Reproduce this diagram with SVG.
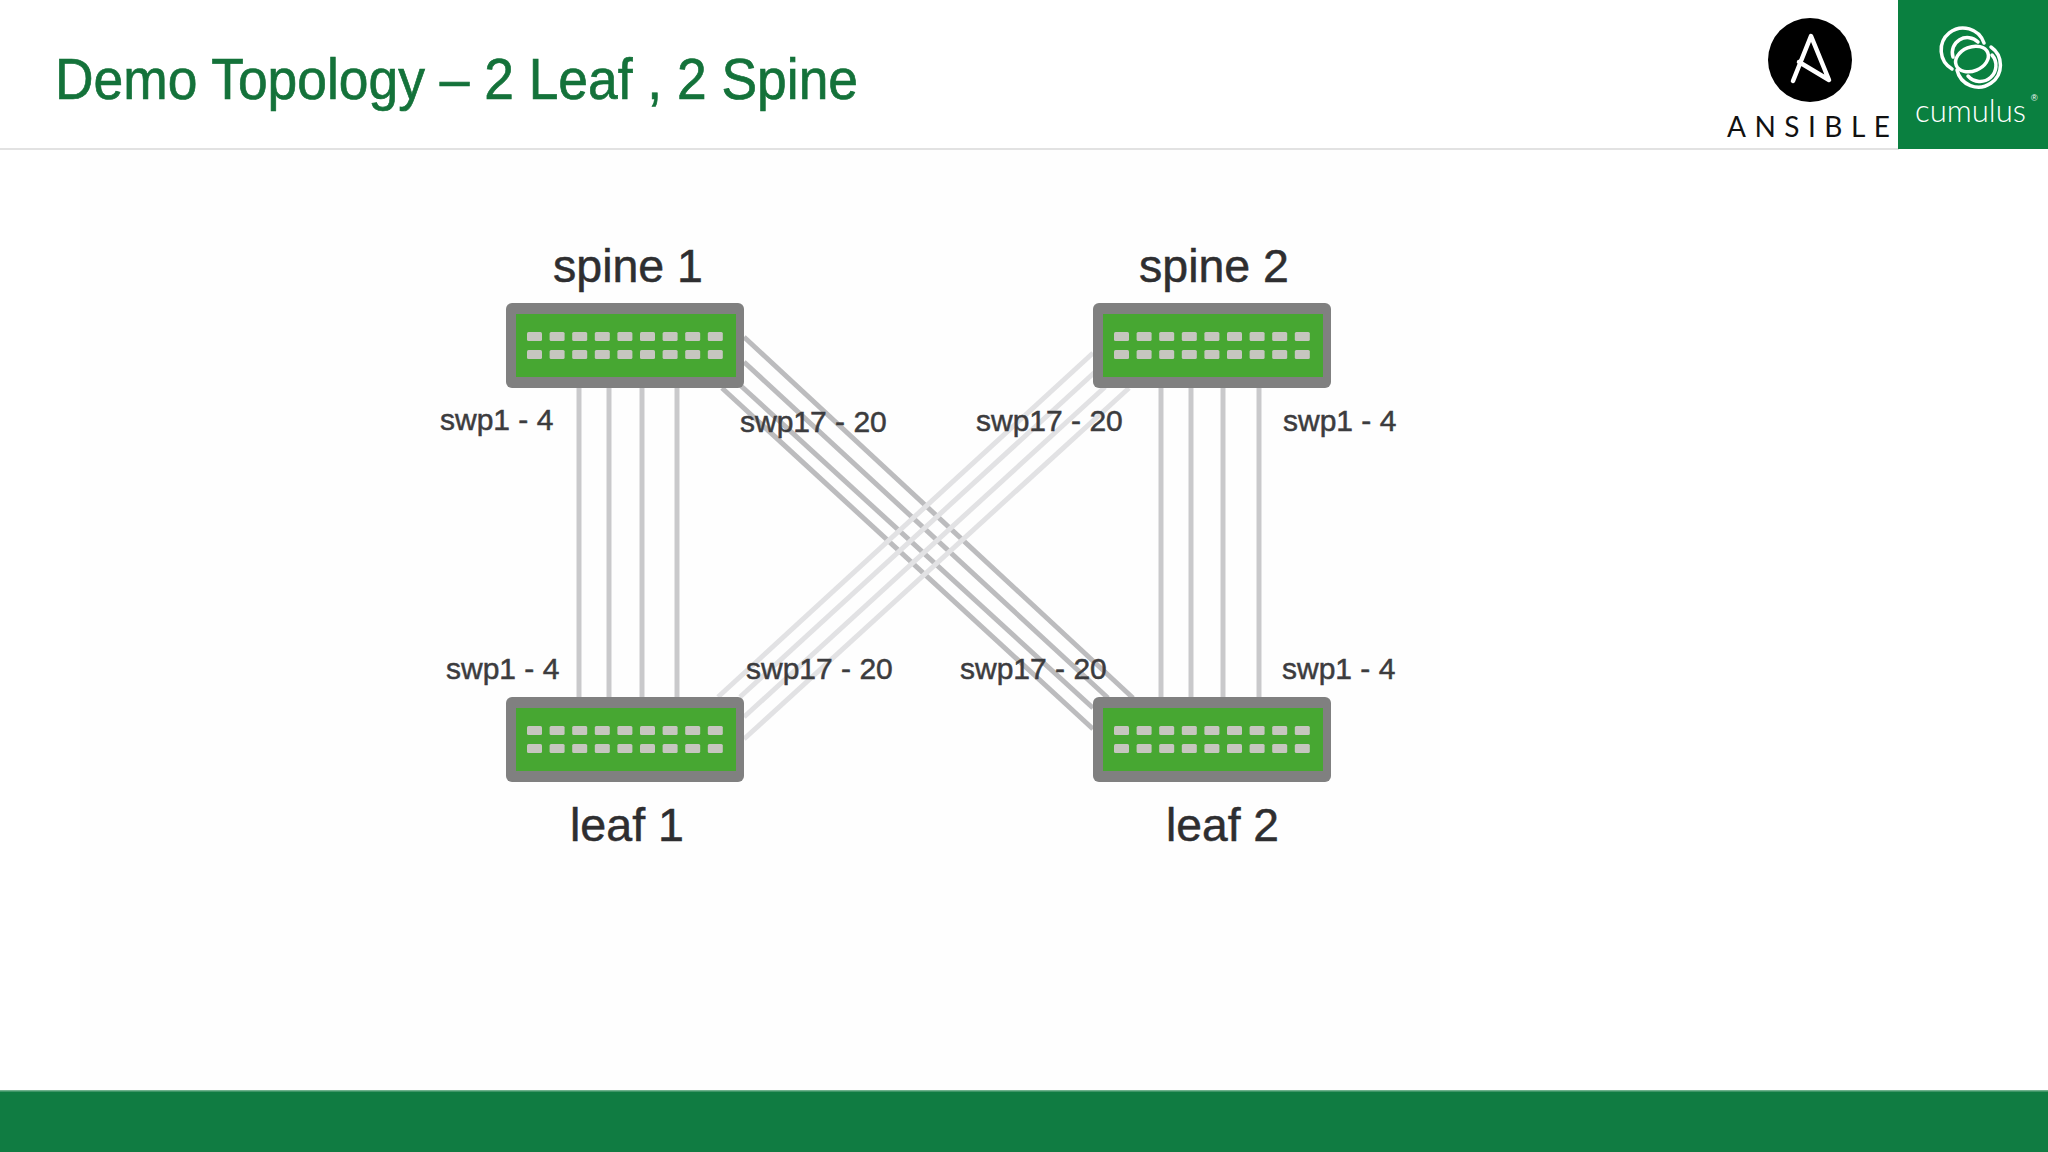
<svg xmlns="http://www.w3.org/2000/svg" width="2048" height="1152" viewBox="0 0 2048 1152">
<style>
text{font-family:"Liberation Sans",Arial,sans-serif}
.title{font-size:58px;fill:#14723a;stroke:#14723a;stroke-width:0.7}
.name{font-size:46px;fill:#2e2e30;stroke:#2e2e30;stroke-width:0.5}
.port{font-size:30px;fill:#3c3c3e;stroke:#3c3c3e;stroke-width:0.5}
.v{stroke:#c9c9cb;stroke-width:5;fill:none}
.d1{stroke:#bcbcbe;stroke-width:5;fill:none}
.d2{stroke:#e2e2e4;stroke-width:5;fill:none}
.case{fill:#808080}
.face{fill:#46a733}
.p{fill:#c6c6bf}
.logo{fill:none;stroke:#fff;stroke-linecap:round}
</style>
<defs>
<filter id="soft" x="-5%" y="-5%" width="110%" height="110%"><feGaussianBlur stdDeviation="0.7"/></filter>
<g id="ports">
<rect class="p" x="0" y="0" width="15" height="9" rx="1.5"/><rect class="p" x="22.6" y="0" width="15" height="9" rx="1.5"/><rect class="p" x="45.2" y="0" width="15" height="9" rx="1.5"/><rect class="p" x="67.8" y="0" width="15" height="9" rx="1.5"/><rect class="p" x="90.4" y="0" width="15" height="9" rx="1.5"/><rect class="p" x="113" y="0" width="15" height="9" rx="1.5"/><rect class="p" x="135.6" y="0" width="15" height="9" rx="1.5"/><rect class="p" x="158.2" y="0" width="15" height="9" rx="1.5"/><rect class="p" x="180.8" y="0" width="15" height="9" rx="1.5"/>
</g>
<g id="switch" filter="url(#soft)">
<rect class="case" x="0" y="0" width="238" height="85" rx="6"/>
<rect class="face" x="10" y="11" width="220" height="63"/>
<use href="#ports" x="21" y="29"/>
<use href="#ports" x="21" y="47"/>
</g>
</defs>
<rect width="2048" height="1152" fill="#ffffff"/>
<rect x="80" y="150" width="1360" height="940" fill="#fefefe"/>
<rect id="header-rule" x="0" y="148" width="1899" height="2" fill="#e2e2e2"/>
<text class="title" x="55" y="99" textLength="803" lengthAdjust="spacingAndGlyphs">Demo Topology – 2 Leaf , 2 Spine</text>

<g id="ansible-logo">
<circle cx="1810" cy="60" r="42" fill="#000"/>
<path d="M1793 81 L1811 36 L1829 80 L1799 62" fill="none" stroke="#fff" stroke-width="4.5" stroke-linejoin="round" stroke-linecap="round"/>
<text x="1727" y="137" font-size="28" fill="#111" style="font-family:Lato,sans-serif" textLength="163">ANSIBLE</text>
</g>
<g id="cumulus-logo">
<rect x="1898" y="0" width="150" height="149" fill="#0a8040"/>
<g transform="translate(1 2)">
<path class="logo" stroke-width="3.5" d="M1951 67 A22 22 0 1 1 1983 41"/>
<path class="logo" stroke-width="3.5" d="M1952 55 A15 15 0 0 1 1977 40"/>
<ellipse class="logo" stroke-width="3.5" cx="1971" cy="57" rx="17" ry="12" transform="rotate(-22 1971 57)"/>
<path class="logo" stroke-width="3.5" d="M1990 45 A22 22 0 1 1 1956 68"/>
<path class="logo" stroke-width="3.5" d="M1967 74 A15 15 0 0 0 1991 53"/>
</g>
<text x="1915" y="122" font-size="31" fill="#fff" font-weight="300" style="font-family:Lato,sans-serif" textLength="111" lengthAdjust="spacingAndGlyphs">cumulus</text>
<text x="2031" y="101" font-size="9" fill="#fff">®</text>
</g>

<g id="connectors" filter="url(#soft)">
<g class="v">
<line x1="579" y1="388" x2="579" y2="697"/><line x1="609" y1="388" x2="609" y2="697"/><line x1="642" y1="388" x2="642" y2="697"/><line x1="677" y1="388" x2="677" y2="697"/>
<line x1="1161" y1="388" x2="1161" y2="697"/><line x1="1191" y1="388" x2="1191" y2="697"/><line x1="1223" y1="388" x2="1223" y2="697"/><line x1="1259" y1="388" x2="1259" y2="697"/>
</g>
<g class="d1">
<line x1="744" y1="337" x2="1133" y2="698"/><line x1="744" y1="362" x2="1108" y2="698"/><line x1="740" y1="385" x2="1093" y2="708"/><line x1="722" y1="388" x2="1093" y2="729"/>
</g>
<g class="d2">
<line x1="718" y1="697" x2="1093" y2="353"/><line x1="740" y1="697" x2="1095" y2="372"/><line x1="744" y1="717" x2="1105" y2="387"/><line x1="744" y1="739" x2="1129" y2="388"/>
</g>
</g>

<g id="spine1"><use href="#switch" x="506" y="303"/><text class="name" x="553" y="282" textLength="150" lengthAdjust="spacingAndGlyphs">spine 1</text></g>
<g id="spine2"><use href="#switch" x="1093" y="303"/><text class="name" x="1139" y="282" textLength="150" lengthAdjust="spacingAndGlyphs">spine 2</text></g>
<g id="leaf1"><use href="#switch" x="506" y="697"/><text class="name" x="570" y="841" textLength="114" lengthAdjust="spacingAndGlyphs">leaf 1</text></g>
<g id="leaf2"><use href="#switch" x="1093" y="697"/><text class="name" x="1166" y="841" textLength="113" lengthAdjust="spacingAndGlyphs">leaf 2</text></g>

<g id="port-labels">
<text class="port" x="440" y="430">swp1 - 4</text>
<text class="port" x="740" y="432">swp17 - 20</text>
<text class="port" x="976" y="431">swp17 - 20</text>
<text class="port" x="1283" y="431">swp1 - 4</text>
<text class="port" x="446" y="679">swp1 - 4</text>
<text class="port" x="746" y="679">swp17 - 20</text>
<text class="port" x="960" y="679">swp17 - 20</text>
<text class="port" x="1282" y="679">swp1 - 4</text>
</g>

<g id="footer">
<rect x="0" y="1090" width="2048" height="62" fill="#107c42"/>
<rect x="0" y="1090" width="2048" height="1.5" fill="#6fb08c"/>
</g>
</svg>
